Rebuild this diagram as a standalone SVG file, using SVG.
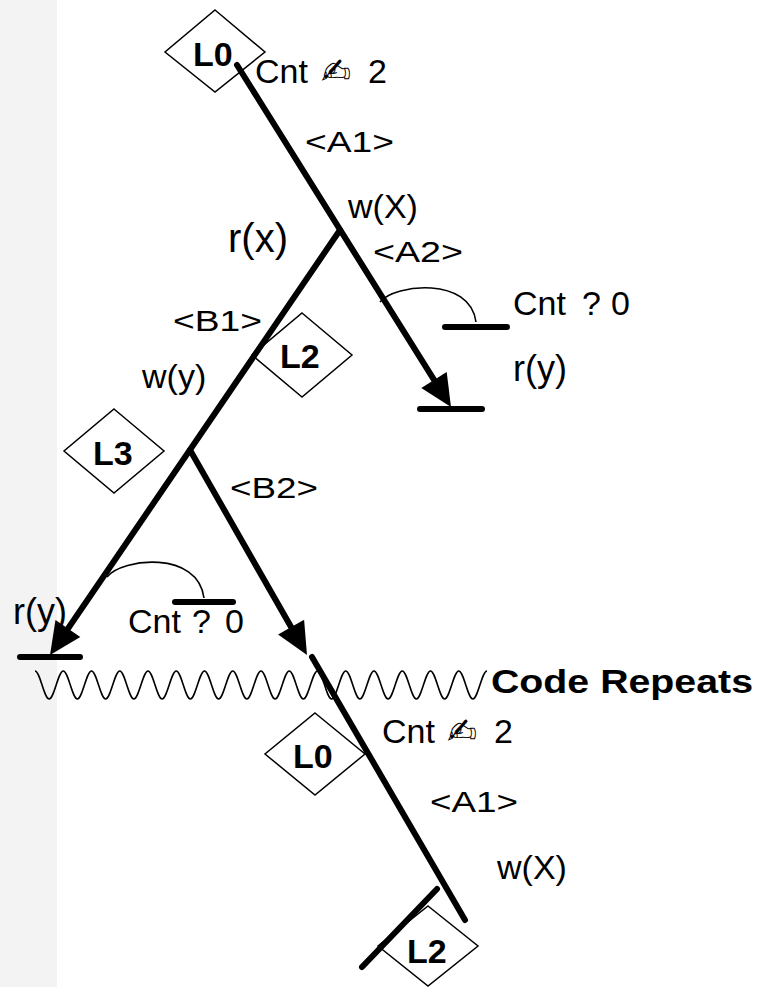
<svg xmlns="http://www.w3.org/2000/svg" width="760" height="987" viewBox="0 0 760 987">
  <style>
    .lock { fill: #fff; stroke: #000; stroke-width: 1.5; }
    .lockt { font-family: "Liberation Sans", Arial, sans-serif; font-weight: bold; font-size: 34px; fill: #000; }
    .edge { fill: none; stroke: #000; stroke-width: 6; stroke-linecap: round; }
    .bar { fill: none; stroke: #000; stroke-width: 6; stroke-linecap: round; }
    .thin { fill: none; stroke: #000; stroke-width: 1.6; }
    .head { fill: #000; stroke: none; }
    .lbl { font-family: "Liberation Sans", Arial, sans-serif; font-size: 34px; fill: #000; }
    .tag { font-family: "Liberation Sans", Arial, sans-serif; font-size: 30px; fill: #000; }
    .pen { font-family: "DejaVu Sans", sans-serif; font-size: 36px; fill: #000; }
    .big { font-family: "Liberation Sans", Arial, sans-serif; font-weight: bold; font-size: 33px; fill: #000; }
  </style>

  <rect x="0" y="0" width="760" height="987" fill="#fff"/>
  <rect x="0" y="0" width="57" height="987" fill="#f3f3f3"/>

  <!-- lock markers -->
  <g id="lock-L0-top">
    <polygon class="lock" points="215,10 265,52 215,92 165,52"/>
    <text class="lockt" x="193" y="66">L0</text>
  </g>
  <g id="lock-L2-mid">
    <polygon class="lock" points="302,313 352,355 302,397 252,355"/>
    <text class="lockt" x="280" y="368">L2</text>
  </g>
  <g id="lock-L3">
    <polygon class="lock" points="114,409 164,451 114,493 64,451"/>
    <text class="lockt" x="93" y="465">L3</text>
  </g>
  <g id="lock-L0-bottom">
    <polygon class="lock" points="315,713 365,754 315,795 265,754"/>
    <text class="lockt" x="293" y="768">L0</text>
  </g>
  <g id="lock-L2-bottom">
    <polygon class="lock" points="428,906 478,946 428,986 378,946"/>
    <text class="lockt" x="407" y="963">L2</text>
  </g>

  <!-- execution paths -->
  <g id="connectors">
    <line class="edge" x1="237" y1="65" x2="442.5" y2="393.4"/>
    <polygon class="head" points="451,407 421.3,387.9 446.7,371.9"/>
    <line class="edge" x1="340" y1="230" x2="59" y2="641.7"/>
    <polygon class="head" points="50,655 55.5,620.1 80.3,636.9"/>
    <line class="edge" x1="190" y1="450" x2="299.1" y2="641.1"/>
    <polygon class="head" points="307,655 278.1,634.6 304.1,619.8"/>
    <line class="edge" x1="312" y1="657" x2="465" y2="920"/>

    <!-- end bars -->
    <line class="bar" x1="420" y1="409" x2="482" y2="409"/>
    <line class="bar" x1="445" y1="327" x2="507" y2="327"/>
    <line class="bar" x1="20" y1="657" x2="80" y2="657"/>
    <line class="bar" x1="175" y1="602" x2="233" y2="602"/>
    <line class="bar" x1="437" y1="889" x2="362" y2="967"/>

    <!-- condition hooks -->
    <path class="thin" d="M380,302 C395,284 470,276 476,322"/>
    <path class="thin" d="M107,577 C122,558 198,550 204,598"/>

    <!-- repeat boundary -->
    <path class="thin" d="M35,671 c5,0 9.1,28 14.125,28 c5,0 9.1,-28 14.125,-28 c5,0 9.1,28 14.125,28 c5,0 9.1,-28 14.125,-28 c5,0 9.1,28 14.125,28 c5,0 9.1,-28 14.125,-28 c5,0 9.1,28 14.125,28 c5,0 9.1,-28 14.125,-28 c5,0 9.1,28 14.125,28 c5,0 9.1,-28 14.125,-28 c5,0 9.1,28 14.125,28 c5,0 9.1,-28 14.125,-28 c5,0 9.1,28 14.125,28 c5,0 9.1,-28 14.125,-28 c5,0 9.1,28 14.125,28 c5,0 9.1,-28 14.125,-28 c5,0 9.1,28 14.125,28 c5,0 9.1,-28 14.125,-28 c5,0 9.1,28 14.125,28 c5,0 9.1,-28 14.125,-28 c5,0 9.1,28 14.125,28 c5,0 9.1,-28 14.125,-28 c5,0 9.1,28 14.125,28 c5,0 9.1,-28 14.125,-28 c5,0 9.1,28 14.125,28 c5,0 9.1,-28 14.125,-28 c5,0 9.1,28 14.125,28 c5,0 9.1,-28 14.125,-28 c5,0 9.1,28 14.125,28 c5,0 9.1,-28 14.125,-28 c5,0 9.1,28 14.125,28 c5,0 9.1,-28 14.125,-28"/>
  </g>

  <!-- path labels -->
  <g id="labels">
    <text class="lbl" x="255" y="83">Cnt</text>
    <text class="pen" x="321" y="84">✍</text>
    <text class="lbl" x="368" y="83">2</text>
    <text class="tag" x="305" y="152" textLength="89" lengthAdjust="spacingAndGlyphs">&lt;A1&gt;</text>
    <text class="lbl" x="348" y="218">w(X)</text>
    <text class="tag" x="373" y="262" textLength="90" lengthAdjust="spacingAndGlyphs">&lt;A2&gt;</text>
    <text class="lbl" x="513" y="315">Cnt</text>
    <text class="lbl" x="582" y="315">?</text>
    <text class="lbl" x="611" y="315">0</text>
    <text class="lbl" x="513" y="381" style="font-size:36px">r(y)</text>
    <text class="lbl" x="228" y="252" style="font-size:40px">r(x)</text>
    <text class="tag" x="173" y="331" textLength="89" lengthAdjust="spacingAndGlyphs">&lt;B1&gt;</text>
    <text class="lbl" x="142" y="388">w(y)</text>
    <text class="tag" x="230" y="498" textLength="88" lengthAdjust="spacingAndGlyphs">&lt;B2&gt;</text>
    <text class="lbl" x="13" y="624" style="font-size:36px">r(y)</text>
    <text class="lbl" x="128" y="633">Cnt</text>
    <text class="lbl" x="192" y="633">?</text>
    <text class="lbl" x="225" y="633">0</text>
    <text class="big" x="491" y="693" textLength="262" lengthAdjust="spacingAndGlyphs">Code Repeats</text>
    <text class="lbl" x="382" y="743">Cnt</text>
    <text class="pen" x="447" y="744">✍</text>
    <text class="lbl" x="494" y="743">2</text>
    <text class="tag" x="430" y="812" textLength="88" lengthAdjust="spacingAndGlyphs">&lt;A1&gt;</text>
    <text class="lbl" x="497" y="879">w(X)</text>
  </g>
</svg>
